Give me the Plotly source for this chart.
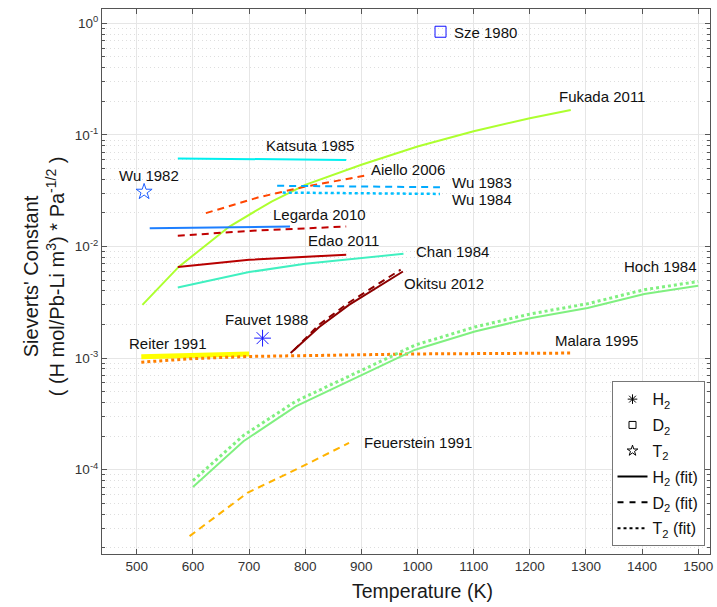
import numpy as np
import plotly.graph_objects as go

# ---- Sieverts' constant data for hydrogen isotopes in Pb-Li ----
# Temperatures (K) and constants (H mol / Pb-Li m^3 / Pa^0.5)

fukada_T = [510, 575, 665, 740, 800, 900, 1000, 1100, 1200, 1273]
fukada_K = [3.0e-3, 6.6e-3, 1.51e-2, 2.53e-2, 3.57e-2, 5.4e-2, 7.86e-2, 0.108, 0.141, 0.1675]

katsuta_T = [573, 873]
katsuta_K = [0.0615, 0.0597]

aiello_T = [623, 718, 800, 905]
aiello_K = [0.0199, 0.0277, 0.0344, 0.043]

wu1983_T = [750, 1040]
wu1983_K = [0.0350, 0.0340]

wu1984_T = [760, 1040]
wu1984_K = [0.0304, 0.0296]

legarda_T = [523, 773]
legarda_K = [0.0146, 0.0151]

edao_d_T = [573, 700, 873]
edao_d_K = [0.01247, 0.0138, 0.0151]

edao_h_T = [573, 700, 873]
edao_h_K = [6.55e-3, 7.6e-3, 8.45e-3]

chan_T = [573, 700, 800, 975]
chan_K = [4.3e-3, 5.9e-3, 7.0e-3, 8.6e-3]

okitsu_h_T = [774, 825, 878, 974]
okitsu_h_K = [1.11e-3, 1.9e-3, 3.0e-3, 5.97e-3]

okitsu_d_T = [780, 825, 878, 970]
okitsu_d_K = [1.18e-3, 2.0e-3, 3.15e-3, 6.2e-3]

reiter_T = [508, 700]
reiter_K = [1.03e-3, 1.09e-3]

malara_T = [508, 600, 700, 850, 1000, 1275]
malara_K = [9.2e-4, 9.9e-4, 1.035e-3, 1.07e-3, 1.09e-3, 1.11e-3]

hoch_T = [600, 690, 783, 895, 996, 1102, 1203, 1303, 1404, 1500]
hoch_h_K = [7.0e-5, 1.8e-4, 3.7e-4, 6.86e-4, 1.19e-3, 1.73e-3, 2.29e-3, 2.81e-3, 3.75e-3, 4.45e-3]
hoch_t_K = [8.0e-5, 2.03e-4, 4.1e-4, 7.6e-4, 1.31e-3, 1.9e-3, 2.5e-3, 3.07e-3, 4.1e-3, 4.86e-3]

feuerstein_T = [594, 697, 801, 878]
feuerstein_K = [2.54e-5, 6.2e-5, 1.11e-4, 1.74e-4]

# single measurements
wu1982_T, wu1982_K = [513], [0.0309]
sze_T, sze_K = [1041], [0.84]
fauvet_T, fauvet_K = [724], [1.51e-3]

# text labels: (text, T, K)
labels = [
    ("Sze 1980", 1061, 0.824),
    ("Fukada 2011", 1249, 0.220),
    ("Katsuta 1985", 727, 0.0802),
    ("Wu 1982", 464, 0.0432),
    ("Aiello 2006", 914, 0.0486),
    ("Wu 1983", 1058, 0.0374),
    ("Wu 1984", 1058, 0.0262),
    ("Legarda 2010", 739, 0.01935),
    ("Edao 2011", 802, 0.01132),
    ("Chan 1984", 993, 9.02e-3),
    ("Okitsu 2012", 972, 4.7e-3),
    ("Hoch 1984", 1365, 6.62e-3),
    ("Fauvet 1988", 653, 2.24e-3),
    ("Reiter 1991", 483, 1.365e-3),
    ("Malara 1995", 1242, 1.44e-3),
    ("Feuerstein 1991", 901, 1.74e-4),
]

x_ticks = list(range(500, 1501, 100))
y_ticks = [1e-4, 1e-3, 1e-2, 1e-1, 1]
y_ticktext = ["10<sup>-4</sup>", "10<sup>-3</sup>", "10<sup>-2</sup>", "10<sup>-1</sup>", "10<sup>0</sup>"]

FONT = "Liberation Sans, Arial, Helvetica, sans-serif"
DASH = "7px,5px"

fig = go.Figure()


def line(T, K, color, width=2, dash="solid"):
    fig.add_trace(go.Scatter(x=T, y=K, mode="lines", showlegend=False,
                             line=dict(color=color, width=width, dash=dash),
                             hoverinfo="skip"))


def point(T, K, color, symbol, size):
    fig.add_trace(go.Scatter(x=T, y=K, mode="markers", showlegend=False,
                             marker=dict(color=color, symbol=symbol, size=size,
                                         line=dict(color=color, width=1)),
                             hoverinfo="skip"))


line(fukada_T, fukada_K, "#adff2f")
line(katsuta_T, katsuta_K, "#00f0f0")
line(aiello_T, aiello_K, "#ff4500", dash=DASH)
line(wu1983_T, wu1983_K, "#00aaff", dash=DASH)
line(wu1984_T, wu1984_K, "#00bfff", width=2.5, dash="dot")
line(legarda_T, legarda_K, "#1e7fff")
line(edao_d_T, edao_d_K, "#c00000", dash=DASH)
line(edao_h_T, edao_h_K, "#b80000")
line(chan_T, chan_K, "#40f0c0")
line(okitsu_d_T, okitsu_d_K, "#8b0000", dash=DASH)
line(okitsu_h_T, okitsu_h_K, "#8b0000")
line(reiter_T, reiter_K, "#ffff00", width=5)
line(malara_T, malara_K, "#ff7f00", width=3, dash="dot")
line(hoch_T, hoch_h_K, "#80f080")
line(hoch_T, hoch_t_K, "#80f080", width=3, dash="dot")
line(feuerstein_T, feuerstein_K, "#ffb300", dash=DASH)

point(wu1982_T, wu1982_K, "#1f5fff", "star-open", 12)
point(sze_T, sze_K, "#1010ff", "square-open", 11)
point(fauvet_T, fauvet_K, "#1a1aff", "asterisk-open", 14)

# legend entries (style keys only)
legend_items = [
    ("H<sub>2</sub>", dict(mode="markers", marker=dict(symbol="asterisk-open", size=8, color="black", line=dict(color="black", width=1)))),
    ("D<sub>2</sub>", dict(mode="markers", marker=dict(symbol="square-open", size=7, color="black", line=dict(color="black", width=1)))),
    ("T<sub>2</sub>", dict(mode="markers", marker=dict(symbol="star-open", size=8, color="black", line=dict(color="black", width=1)))),
    ("H<sub>2</sub> (fit)", dict(mode="lines", line=dict(color="black", width=2, dash="solid"))),
    ("D<sub>2</sub> (fit)", dict(mode="lines", line=dict(color="black", width=2, dash="6px,6px"))),
    ("T<sub>2</sub> (fit)", dict(mode="lines", line=dict(color="black", width=2, dash="dot"))),
]
for i, (name, style) in enumerate(legend_items):
    fig.add_trace(go.Scatter(x=[None], y=[None], name=name, showlegend=True,
                             legendgroup=f"g{i}", **style))

for text, T, K in labels:
    fig.add_annotation(x=T, y=np.log10(K), xref="x", yref="y", text=text,
                       showarrow=False, xanchor="left", yanchor="middle",
                       font=dict(family=FONT, size=15, color="#111111"))

# axis titles
fig.add_annotation(x=0.527, y=-0.068, xref="paper", yref="paper",
                   text="Temperature (K)", showarrow=False,
                   xanchor="center", yanchor="middle",
                   font=dict(family=FONT, size=19.5, color="#1a1a1a"))
fig.add_annotation(x=-0.095, y=0.51, xref="paper", yref="paper",
                   text="Sieverts' Constant<br>( (H mol/Pb-Li m<sup>3</sup>) * Pa<sup>-1/2</sup> )",
                   textangle=-90, showarrow=False,
                   xanchor="center", yanchor="middle",
                   font=dict(family=FONT, size=20, color="#1a1a1a"))

minor_vals = [m * 10.0 ** e for e in range(-5, 1) for m in range(2, 10)]

axis_common = dict(showline=True, linecolor="#555555", linewidth=1, mirror="ticks",
                   ticks="inside", tickcolor="#555555", ticklen=5,
                   showgrid=True, gridcolor="#e6e6e6", gridwidth=1, zeroline=False,
                   tickfont=dict(family=FONT, size=13.5, color="#333333"))

fig.update_xaxes(range=[438, 1521], tickvals=x_ticks, **axis_common)
fig.update_yaxes(type="log", range=[-4.755, 0.128], tickvals=y_ticks, ticktext=y_ticktext,
                 minor=dict(tickvals=minor_vals, ticks="inside", ticklen=3, tickcolor="#555555",
                            showgrid=True, gridcolor="#dedede", griddash="1px,3px", gridwidth=1),
                 **axis_common)

fig.update_layout(
    width=717, height=607,
    margin=dict(l=102, r=4, t=9, b=53),
    paper_bgcolor="white", plot_bgcolor="white",
    font=dict(family=FONT),
    legend=dict(x=0.838, y=0.317, xanchor="left", yanchor="top",
                bgcolor="white", bordercolor="#777777", borderwidth=1,
                font=dict(family=FONT, size=16, color="#111111"),
                tracegroupgap=2),
)

fig.write_html("out.html")
